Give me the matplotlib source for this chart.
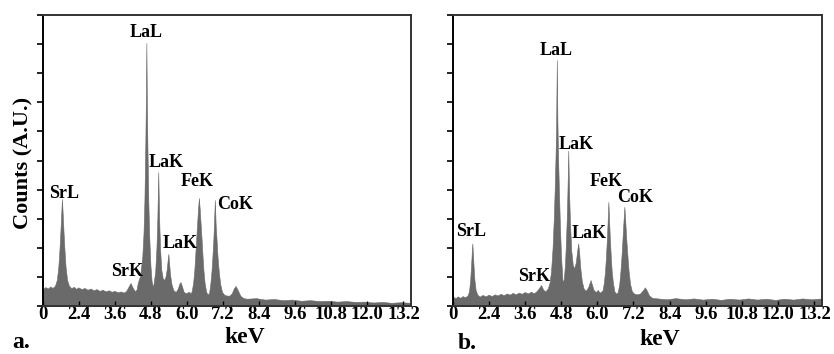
import matplotlib
matplotlib.use("Agg")
import matplotlib.pyplot as plt

# EDS spectra: energy (keV) and counts (arbitrary units, 0-100)
energy_a = [1.22, 1.30, 1.38, 1.46, 1.54, 1.62, 1.68, 1.73, 1.77, 1.80, 1.825, 1.85, 1.875, 1.90, 1.93,
            1.97, 2.02, 2.08, 2.16, 2.24, 2.32, 2.40, 2.50, 2.60, 2.70, 2.80, 2.90, 3.00, 3.10, 3.20,
            3.30, 3.40, 3.50, 3.60, 3.70, 3.80, 3.90, 3.98, 4.06, 4.13, 4.20, 4.27, 4.33,
            4.37, 4.45, 4.52, 4.56, 4.59, 4.62, 4.64, 4.655, 4.67, 4.69, 4.72, 4.75, 4.79, 4.83, 4.87,
            4.90, 4.95, 4.99, 5.02, 5.035, 5.05, 5.065, 5.08, 5.11, 5.15, 5.20, 5.25,
            5.29, 5.33, 5.36, 5.385, 5.41, 5.44, 5.49, 5.55, 5.63, 5.70, 5.75, 5.79, 5.83, 5.89,
            5.95, 6.01, 6.07, 6.12,
            6.16, 6.21, 6.25, 6.28, 6.31, 6.34, 6.37, 6.40, 6.43, 6.46, 6.49, 6.52, 6.55, 6.59, 6.64, 6.69,
            6.74, 6.78, 6.82, 6.85, 6.88, 6.90, 6.915, 6.93, 6.945, 6.96, 6.99, 7.02, 7.06, 7.11, 7.17, 7.25,
            7.33, 7.41, 7.49, 7.56, 7.62, 7.69, 7.78, 7.88,
            8.00, 8.30, 8.60, 8.90, 9.20, 9.50, 9.80, 10.10, 10.40, 10.70, 11.00, 11.30, 11.60, 11.90,
            12.20, 12.50, 12.80, 13.10, 13.45]
counts_a = [5.8, 6.5, 6.0, 6.7, 6.2, 7.0, 9.0, 13.5, 20.0, 26.0, 31.5, 36.8, 31.5, 26.0, 20.0,
            13.5, 9.0, 7.0, 6.1, 6.6, 5.9, 6.4, 5.8, 6.2, 5.6, 6.0, 5.4, 5.8, 5.2, 5.6,
            5.0, 5.4, 4.9, 5.2, 4.7, 5.0, 4.6, 5.1, 6.6, 7.9, 6.3, 5.1, 5.6,
            8.0, 10.5, 17.0, 25.0, 36.0, 55.0, 72.0, 90.4, 72.0, 55.0, 36.0, 24.0, 14.0, 8.5, 6.5,
            8.0, 12.0, 20.0, 30.0, 38.0, 46.0, 38.0, 30.0, 20.0, 12.5, 9.5, 9.0,
            10.0, 12.5, 15.5, 17.9, 15.0, 11.0, 7.5, 5.5, 4.8, 6.0, 7.6, 8.2, 7.0, 5.0,
            4.4, 4.6, 4.9, 4.3,
            5.0, 8.0, 12.5, 17.5, 23.0, 28.0, 33.0, 37.1, 33.0, 28.0, 23.0, 17.5, 12.5, 8.0, 5.0, 3.9,
            4.5, 7.5, 12.0, 17.0, 22.5, 27.5, 32.0, 36.4, 32.0, 27.5, 22.5, 17.0, 12.0, 7.5, 4.8, 3.8,
            3.6, 3.5, 4.3, 6.0, 6.9, 5.5, 3.5, 2.7,
            2.5, 2.7, 2.2, 2.4, 2.0, 2.2, 1.8, 2.0, 1.7, 1.8, 1.5, 1.7, 1.4, 1.5,
            1.2, 1.4, 1.1, 1.3, 1.1]

energy_b = [1.22, 1.30, 1.38, 1.46, 1.54, 1.62, 1.70, 1.75, 1.79, 1.82, 1.84, 1.86, 1.88, 1.90, 1.93,
            1.97, 2.02, 2.10, 2.20, 2.30, 2.40, 2.50, 2.60, 2.70, 2.80, 2.90, 3.00, 3.10, 3.20, 3.30,
            3.40, 3.50, 3.60, 3.70, 3.80, 3.90, 3.98, 4.06, 4.14, 4.21, 4.28,
            4.36, 4.42, 4.47, 4.52, 4.56, 4.59, 4.62, 4.64, 4.66, 4.68, 4.70, 4.73, 4.76, 4.80, 4.85,
            4.89, 4.93, 4.96, 4.99, 5.01, 5.025, 5.04, 5.055, 5.07, 5.10, 5.14, 5.19, 5.24,
            5.29, 5.33, 5.37, 5.40, 5.44, 5.49, 5.55, 5.62, 5.70, 5.75, 5.78, 5.82, 5.88, 5.95,
            6.02, 6.08, 6.14,
            6.18, 6.22, 6.26, 6.29, 6.32, 6.345, 6.37, 6.395, 6.42, 6.45, 6.48, 6.52, 6.57, 6.63,
            6.68, 6.73, 6.77, 6.81, 6.84, 6.87, 6.90, 6.93, 6.96, 7.00, 7.04, 7.09, 7.15, 7.23,
            7.33, 7.42, 7.52, 7.58, 7.64, 7.72, 7.82,
            8.00, 8.30, 8.60, 8.90, 9.20, 9.50, 9.80, 10.10, 10.40, 10.70, 11.00, 11.30, 11.60, 11.90,
            12.20, 12.50, 12.80, 13.10, 13.45]
counts_b = [3.2, 2.7, 3.3, 2.8, 3.4, 3.0, 3.6, 5.0, 9.0, 14.0, 18.0, 21.5, 18.0, 14.0, 9.0,
            5.5, 4.0, 3.2, 3.8, 3.3, 3.9, 3.4, 4.0, 3.6, 4.2, 3.7, 4.3, 3.9, 4.5, 4.0,
            4.6, 4.2, 4.8, 4.3, 4.9, 4.4, 5.0, 6.0, 7.2, 5.6, 5.0,
            6.0, 8.0, 12.0, 20.0, 30.0, 40.0, 52.0, 64.0, 84.5, 64.0, 52.0, 40.0, 29.0, 17.0, 8.5,
            9.0, 14.0, 21.0, 30.0, 38.0, 45.0, 53.4, 45.0, 38.0, 28.0, 19.0, 14.0, 13.0,
            15.0, 18.5, 21.5, 18.5, 13.0, 8.5, 6.0, 5.2, 6.5, 8.0, 8.9, 7.5, 5.5, 4.8,
            5.5, 4.6, 5.0,
            5.5, 8.0, 12.0, 17.0, 23.0, 29.0, 35.8, 29.0, 23.0, 17.0, 12.0, 8.0, 5.0, 4.2,
            4.8, 7.5, 12.0, 18.0, 23.5, 29.0, 34.1, 29.0, 23.5, 17.5, 12.0, 7.5, 5.0, 4.2,
            4.0, 4.3, 5.5, 6.4, 5.4, 3.6, 2.8,
            2.6, 2.3, 2.7, 2.3, 2.6, 2.2, 2.5, 2.1, 2.5, 2.2, 2.6, 2.2, 2.5, 2.1,
            2.5, 2.2, 2.6, 2.3, 2.6]

tick_pos = [1.22, 2.4, 3.6, 4.8, 6.0, 7.2, 8.4, 9.6, 10.8, 12.0, 13.2]
tick_labels = ['0', '2.4', '3.6', '4.8', '6.0', '7.2', '8.4', '9.6', '10.8', '12.0', '13.2']

# peak labels: (text, x keV, baseline y)
peaks_a = [('LaL', 4.65, 92.4), ('LaK', 5.31, 47.8), ('FeK', 6.35, 41.2), ('CoK', 7.61, 33.3),
           ('LaK', 5.78, 19.9), ('SrK', 4.02, 10.3), ('SrL', 1.92, 37.1)]
peaks_b = [('LaL', 4.63, 86.3), ('LaK', 5.30, 54.0), ('FeK', 6.29, 41.2), ('CoK', 7.25, 35.7),
           ('LaK', 5.73, 23.4), ('SrL', 1.82, 24.1), ('SrK', 3.90, 8.6)]

SERIF = 'Liberation Serif'
FILL = '#6a6a6a'


def draw_panel(ax, energy, counts, peaks, xlabel_pos):
    ax.fill_between(energy, counts, 0, color=FILL, lw=0.4, edgecolor=FILL)
    ax.set_xlim(1.22, 13.45)
    ax.set_ylim(0, 100)
    ax.set_yticks(range(0, 101, 10))
    ax.tick_params(axis='y', direction='out', length=4, width=1.2, labelleft=False)
    ax.set_xticks(tick_pos)
    ax.set_xticklabels(tick_labels, fontfamily=SERIF, fontweight='bold', fontsize=13.5)
    ax.tick_params(axis='x', direction='in', length=3.5, width=1, pad=0)
    for side in ['top', 'right', 'bottom']:
        ax.spines[side].set_color('#333333')
        ax.spines[side].set_linewidth(1.4)
    ax.spines['left'].set_color('black')
    ax.spines['left'].set_linewidth(1.4)
    for txt, x, y in peaks:
        ax.text(x, y, txt, ha='center', va='baseline', fontfamily=SERIF,
                fontweight='bold', fontsize=13)
    ax.set_xlabel('keV', fontfamily=SERIF, fontweight='bold', fontsize=17)
    ax.xaxis.label.set_va('baseline')
    ax.xaxis.set_label_coords(*xlabel_pos)


fig = plt.figure(figsize=(8.34, 3.54), dpi=100)
ax_a = fig.add_axes([43 / 834, 48 / 354, 368 / 834, 291 / 354])
ax_b = fig.add_axes([453 / 834, 48 / 354, 369 / 834, 291 / 354])

draw_panel(ax_a, energy_a, counts_a, peaks_a, ((245 - 43) / 368, -37 / 291))
draw_panel(ax_b, energy_b, counts_b, peaks_b, ((660 - 453) / 369, -39 / 291))

ax_a.set_ylabel('Counts (A.U.)', fontfamily=SERIF, fontweight='bold', fontsize=16)
ax_a.yaxis.set_label_coords(-10 / 368, 0.49)

fig.text(12 / 834, 1 - 348 / 354, 'a.', fontfamily=SERIF, fontweight='bold', fontsize=17, va='baseline')
fig.text(458 / 834, 1 - 349 / 354, 'b.', fontfamily=SERIF, fontweight='bold', fontsize=17, va='baseline')

fig.savefig('out.png', dpi=100)
